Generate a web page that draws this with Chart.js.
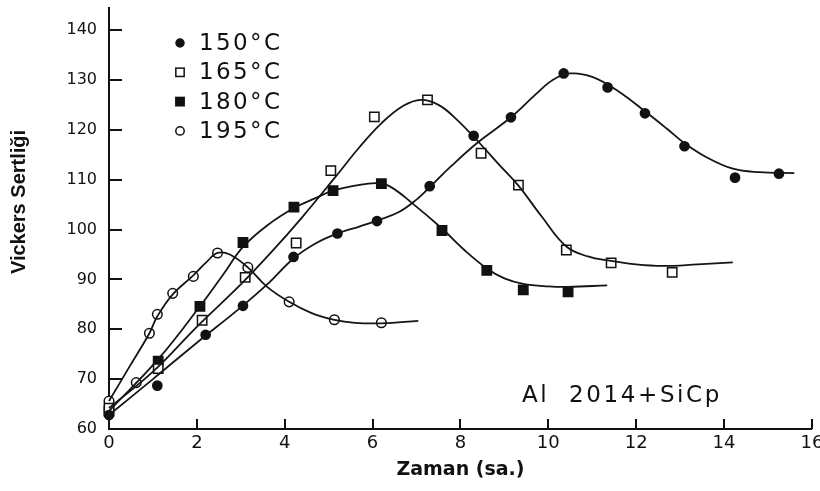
<!DOCTYPE html>
<html>
<head>
<meta charset="utf-8">
<script src="https://cdn.jsdelivr.net/npm/chart.js@4.4.1/dist/chart.umd.min.js"></script>
<style>
  html, body { margin: 0; padding: 0; background: #fff; }
  #wrap { width: 820px; height: 491px; }
</style>
</head>
<body>
<div id="wrap"><canvas id="c" width="820" height="491"></canvas></div>
<script>
// ---- data ----
const seriesLabels = ['150°C', '165°C', '180°C', '195°C'];

// measured points
const t150 = [0, 1.1, 2.2, 3.05, 4.2, 5.2, 6.1, 7.3, 8.3, 9.15, 10.35, 11.35, 12.2, 13.1, 14.25, 15.25];
const hv150 = [62.8, 68.7, 78.9, 84.7, 94.5, 99.2, 101.7, 108.7, 118.8, 122.5, 131.3, 128.5, 123.3, 116.7, 110.4, 111.2];

const t165 = [0, 1.12, 2.12, 3.1, 4.26, 5.05, 6.04, 7.25, 8.47, 9.32, 10.41, 11.43, 12.82];
const hv165 = [64.2, 72.1, 81.8, 90.4, 97.3, 111.8, 122.6, 126.0, 115.3, 108.9, 95.9, 93.3, 91.4];

const t180 = [0, 1.12, 2.07, 3.05, 4.21, 5.1, 6.2, 7.58, 8.6, 9.43, 10.45];
const hv180 = [63.6, 73.6, 84.6, 97.4, 104.5, 107.8, 109.2, 99.8, 91.8, 87.9, 87.5];

const t195 = [0, 0.62, 0.92, 1.1, 1.45, 1.92, 2.47, 3.16, 4.1, 5.13, 6.2];
const hv195 = [65.6, 69.3, 79.2, 83.0, 87.2, 90.6, 95.3, 92.4, 85.5, 81.9, 81.3];

// fitted curves
const fit150x = [0, 1, 2, 3, 3.6, 4.2, 4.7, 5.2, 5.7, 6.1, 6.6, 7.0, 7.3, 7.8, 8.4, 9.15, 9.7, 10.1, 10.5, 11.0, 11.6, 12.2, 12.7, 13.1, 13.6, 14.2, 14.8, 15.6];
const fit150y = [62.8, 70.0, 77.3, 84.4, 89.0, 94.2, 97.2, 99.2, 100.6, 101.8, 103.5, 106.0, 108.5, 112.8, 117.5, 122.5, 127.0, 130.0, 131.3, 130.6, 127.7, 123.7, 120.2, 117.3, 114.5, 112.2, 111.5, 111.3];

const fit165x = [0, 1, 2, 3, 3.7, 4.4, 5.15, 5.7, 6.2, 6.7, 7.1, 7.5, 7.9, 8.47, 8.9, 9.32, 9.85, 10.41, 10.9, 11.43, 12.0, 12.6, 13.4, 14.2];
const fit165y = [64.2, 71.5, 80.5, 89.0, 95.5, 102.5, 110.5, 116.5, 121.3, 124.8, 126.0, 125.0, 122.2, 117.0, 112.8, 108.8, 102.6, 96.6, 94.6, 93.7, 93.0, 92.7, 93.0, 93.4];

const fit180x = [0, 1.12, 2.07, 2.6, 3.05, 3.6, 4.21, 4.7, 5.1, 5.6, 6.1, 6.4, 6.9, 7.58, 8.1, 8.6, 9.0, 9.43, 10.0, 10.45, 11.34];
const fit180y = [63.6, 74.0, 84.6, 91.0, 96.5, 100.8, 104.3, 106.3, 107.8, 108.8, 109.3, 108.6, 105.3, 100.2, 95.8, 92.2, 90.2, 89.1, 88.6, 88.5, 88.8];

const fit195x = [0, 0.46, 0.92, 1.1, 1.45, 1.92, 2.2, 2.47, 2.75, 3.16, 3.6, 4.1, 4.6, 5.13, 5.6, 6.2, 7.04];
const fit195y = [65.6, 72.4, 79.2, 82.6, 87.0, 90.8, 93.3, 95.3, 95.0, 92.4, 88.5, 85.5, 83.3, 81.9, 81.3, 81.2, 81.7];

const xTickValues = [0, 2, 4, 6, 8, 10, 12, 14, 16];
const yTickValues = [60, 70, 80, 90, 100, 110, 120, 130, 140];
const xTitle = 'Zaman (sa.)';
const yTitle = 'Vickers Sertliği';
const noteText = 'Al  2014+SiCp';

// ---- helpers ----
const zip = (xs, ys) => xs.map((x, i) => ({ x: x, y: ys[i] }));

const pointStyles = [
  { style: 'circle', fill: '#111', r: 4.6 },
  { style: 'rect',   fill: '#fff', r: 6.6 },
  { style: 'rect',   fill: '#111', r: 6.6 },
  { style: 'circle', fill: '#fff', r: 4.8 }
];
const pts = [zip(t150, hv150), zip(t165, hv165), zip(t180, hv180), zip(t195, hv195)];
const fits = [zip(fit150x, fit150y), zip(fit165x, fit165y), zip(fit180x, fit180y), zip(fit195x, fit195y)];

const datasets = [];
fits.forEach((d, i) => {
  datasets.push({
    label: seriesLabels[i] + ' fit',
    data: d,
    showLine: true,
    borderColor: '#151515',
    borderWidth: 1.8,
    pointRadius: 0,
    tension: 0.4,
    fill: false,
    clip: false,
    isFit: true
  });
});
pts.forEach((d, i) => {
  const ps = pointStyles[i];
  datasets.push({
    label: seriesLabels[i],
    data: d,
    showLine: false,
    pointStyle: ps.style,
    pointRadius: ps.r,
    pointBackgroundColor: ps.fill,
    pointBorderColor: '#111',
    pointBorderWidth: 1.5,
    clip: false
  });
});

const overlay = {
  id: 'overlay',
  afterDraw(chart) {
    const { ctx, chartArea, scales } = chart;
    const xs = scales.x, ys = scales.y;
    ctx.save();
    // inward tick marks
    ctx.strokeStyle = '#111';
    ctx.lineWidth = 2;
    ctx.beginPath();
    yTickValues.forEach(v => {
      if (v === 60) return;
      const py = Math.round(ys.getPixelForValue(v));
      ctx.moveTo(chartArea.left, py);
      ctx.lineTo(chartArea.left + 13, py);
    });
    xTickValues.forEach(v => {
      if (v === 0) return;
      const px = Math.round(xs.getPixelForValue(v));
      ctx.moveTo(px, chartArea.bottom);
      ctx.lineTo(px, chartArea.bottom - 10);
    });
    ctx.stroke();

    // legend
    const lx = 180, ly0 = 43, dy = 29.3;
    chart.data.datasets.filter(d => !d.isFit).forEach((d, i) => {
      const cy = ly0 + dy * i;
      ctx.fillStyle = d.pointBackgroundColor;
      ctx.strokeStyle = '#111';
      ctx.lineWidth = 1.5;
      if (d.pointStyle === 'circle') {
        ctx.beginPath();
        ctx.arc(lx, cy, d.pointRadius - 0.6, 0, Math.PI * 2);
        ctx.fill(); ctx.stroke();
      } else {
        const s = d.pointRadius * Math.SQRT1_2 - 0.5;
        ctx.fillRect(lx - s, cy - s, 2 * s, 2 * s);
        ctx.strokeRect(lx - s, cy - s, 2 * s, 2 * s);
      }
      ctx.fillStyle = '#111';
      ctx.font = '23px "DejaVu Sans"';
      ctx.textAlign = 'left';
      ctx.textBaseline = 'middle';
      try { ctx.letterSpacing = '2.4px'; } catch (e) {}
      ctx.fillText(d.label, 199, cy + 1);
    });

    // annotation
    ctx.font = '23px "DejaVu Sans"';
    try { ctx.letterSpacing = '2.6px'; } catch (e) {}
    ctx.textAlign = 'left';
    ctx.textBaseline = 'middle';
    ctx.fillText(noteText, xs.getPixelForValue(9.4), ys.getPixelForValue(66.6));

    // y title
    try { ctx.letterSpacing = '0px'; } catch (e) {}
    ctx.translate(19, 202);
    ctx.rotate(-Math.PI / 2);
    ctx.font = 'bold 20px "Liberation Sans"';
    ctx.textAlign = 'center';
    ctx.textBaseline = 'middle';
    ctx.fillText(yTitle, 0, 0);
    ctx.restore();
  }
};

new Chart(document.getElementById('c'), {
  type: 'line',
  data: { datasets: datasets },
  options: {
    responsive: false,
    animation: false,
    events: [],
    layout: { padding: { top: 7, right: 8, left: 0, bottom: 0 } },
    plugins: { legend: { display: false }, tooltip: { enabled: false } },
    scales: {
      x: {
        type: 'linear',
        min: 0, max: 16,
        grid: { display: false, drawTicks: false },
        border: { display: true, color: '#111', width: 2 },
        afterBuildTicks: s => { s.ticks = xTickValues.map(v => ({ value: v })); },
        ticks: {
          padding: 4,
          color: '#111',
          font: { family: '"DejaVu Sans"', size: 18 },
          maxRotation: 0,
          autoSkip: false
        },
        title: {
          display: true,
          text: xTitle,
          color: '#111',
          font: { family: '"DejaVu Sans"', size: 19, weight: 'bold' },
          padding: { top: 0, bottom: 10 }
        },
        afterFit: s => { s.height = 62; s.paddingLeft = 0; s.paddingRight = 0; }
      },
      y: {
        type: 'linear',
        min: 60, max: 144.4,
        grid: { display: false, drawTicks: false },
        border: { display: true, color: '#111', width: 2 },
        afterBuildTicks: s => { s.ticks = yTickValues.map(v => ({ value: v })); },
        ticks: {
          padding: 12,
          color: '#111',
          font: { family: '"DejaVu Sans"', size: 16 }
        },
        afterFit: s => { s.width = 109; s.paddingTop = 0; s.paddingBottom = 0; }
      }
    }
  },
  plugins: [overlay]
});
</script>
</body>
</html>
